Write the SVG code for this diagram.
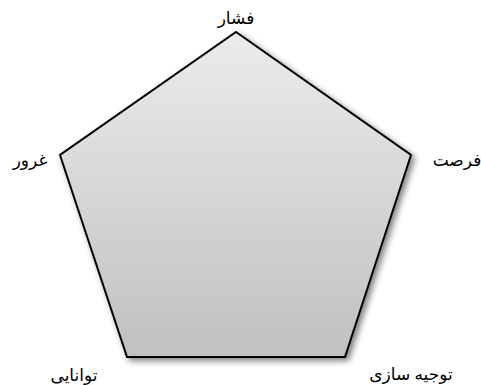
<svg xmlns="http://www.w3.org/2000/svg" width="481" height="385" viewBox="0 0 481 385">
<style>
.lbl{font-family:"Liberation Serif","DejaVu Sans",serif;font-size:17px;fill:#000;text-anchor:middle;direction:rtl}
</style>
<defs>
<linearGradient id="g" x1="0" y1="31" x2="0" y2="357" gradientUnits="userSpaceOnUse">
<stop offset="0" stop-color="#ececec"/>
<stop offset="1" stop-color="#c0c0c0"/>
</linearGradient>
<filter id="sh" x="-10%" y="-10%" width="130%" height="130%">
<feGaussianBlur in="SourceAlpha" stdDeviation="3"/>
<feOffset dx="3" dy="3" result="b"/>
<feComponentTransfer><feFuncA type="linear" slope="0.5"/></feComponentTransfer>
<feMerge><feMergeNode/><feMergeNode in="SourceGraphic"/></feMerge>
</filter>
</defs>
<rect width="481" height="385" fill="#fff"/>
<g id="pentagon">
<polygon points="236,32 411,155 345,357 127,357 60,155" fill="url(#g)" stroke="#000" stroke-width="2" stroke-linejoin="miter" filter="url(#sh)"/>
</g>
<g id="labels">
<g id="n-top"><text class="lbl" x="236" y="24">فشار</text></g>
<g id="n-left"><text class="lbl" x="30" y="166">غرور</text></g>
<g id="n-right"><text class="lbl" x="457" y="166">فرصت</text></g>
<g id="n-bl"><text class="lbl" x="74" y="381">توانایی</text></g>
<g id="n-br"><text class="lbl" x="411" y="380">توجیه سازی</text></g>
</g>
</svg>
